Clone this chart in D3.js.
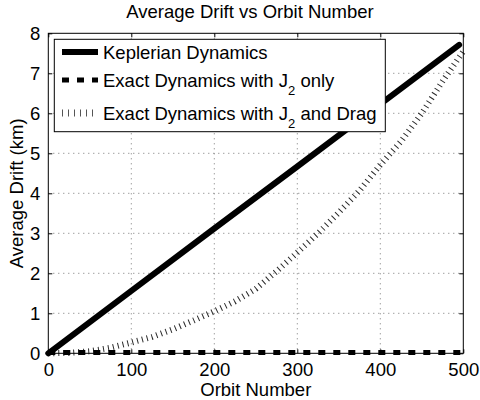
<!DOCTYPE html>
<html><head><meta charset="utf-8">
<script src="https://cdn.jsdelivr.net/npm/d3@7"></script>
<style>body{margin:0;background:#fff}svg{display:block}text{font-family:"Liberation Sans",Arial,sans-serif}</style>
</head><body>
<svg id="c" width="480" height="400"></svg>
<script>
const title = "Average Drift vs Orbit Number";
const xLabel = "Orbit Number";
const yLabel = "Average Drift (km)";
const xTicks = [0, 100, 200, 300, 400, 500];
const yTicks = [0, 1, 2, 3, 4, 5, 6, 7, 8];
const keplerOrbit = [0, 100, 200, 300, 400, 495];
const keplerDrift = [0, 1.56, 3.12, 4.67, 6.23, 7.71];
const j2Orbit = [0, 100, 200, 300, 400, 500];
const j2Drift = [0.02, 0.02, 0.02, 0.02, 0.02, 0.02];
const dragOrbit = [0, 25, 50, 75, 100, 125, 150, 175, 200, 225, 250, 275, 300, 325, 350, 375, 400, 425, 450, 475, 500];
const dragDrift = [0, 0.01, 0.05, 0.14, 0.27, 0.41, 0.6, 0.82, 1.05, 1.3, 1.61, 2.05, 2.52, 3.0, 3.52, 4.07, 4.71, 5.3, 6.0, 6.8, 7.55];
const legendLabels = [["Keplerian Dynamics", null, ""], ["Exact Dynamics with J", "2", " only"], ["Exact Dynamics with J", "2", " and Drag"]];

const L = 48.3, R = 463.3, T = 33.3, B = 353.3;
const x = d3.scaleLinear().domain([0, 500]).range([L, R]);
const y = d3.scaleLinear().domain([0, 8]).range([B, T]);
const svg = d3.select("#c");
const FS = 18.5;

// grid
const g = svg.append("g");
g.selectAll(".gx").data(xTicks.slice(1, -1)).enter().append("line")
  .attr("x1", d => x(d)).attr("x2", d => x(d)).attr("y1", T).attr("y2", B)
  .attr("stroke", "#777").attr("stroke-width", 1).attr("stroke-dasharray", "1 4");
g.selectAll(".gy").data(yTicks.slice(1, -1)).enter().append("line")
  .attr("y1", d => y(d)).attr("y2", d => y(d)).attr("x1", L).attr("x2", R)
  .attr("stroke", "#777").attr("stroke-width", 1).attr("stroke-dasharray", "1 4");

// axes
const tickLen = 4;
svg.append("g").attr("transform", `translate(0,${B})`)
  .call(d3.axisBottom(x).tickValues(xTicks).tickSizeInner(-tickLen).tickSizeOuter(0).tickPadding(10))
  .call(a => a.select(".domain").remove());
svg.append("g").attr("transform", `translate(0,${T})`)
  .call(d3.axisTop(x).tickValues(xTicks).tickSizeInner(-tickLen).tickSizeOuter(0).tickFormat(""))
  .call(a => a.select(".domain").remove());
svg.append("g").attr("transform", `translate(${L},0)`)
  .call(d3.axisLeft(y).tickValues(yTicks).tickSizeInner(-tickLen).tickSizeOuter(0).tickPadding(8))
  .call(a => a.select(".domain").remove());
svg.append("g").attr("transform", `translate(${R},0)`)
  .call(d3.axisRight(y).tickValues(yTicks).tickSizeInner(-tickLen).tickSizeOuter(0).tickFormat(""))
  .call(a => a.select(".domain").remove());
svg.selectAll(".tick text").attr("font-size", FS).attr("font-family", "Liberation Sans, Arial, sans-serif").attr("fill", "#000");
svg.selectAll(".tick line").attr("stroke", "#000");

// data lines
const line = d3.line().x(d => x(d[0])).y(d => y(d[1]));
const dg = svg.append("g");
dg.append("path").datum(dragOrbit.map((o, i) => [o, dragDrift[i]])).attr("d", line)
  .attr("fill", "none").attr("stroke", "#2a2a2a").attr("stroke-width", 6).attr("stroke-dasharray", "1 4");
dg.append("path").datum(j2Orbit.map((o, i) => [o, j2Drift[i]])).attr("d", line)
  .attr("fill", "none").attr("stroke", "#000").attr("stroke-width", 5).attr("stroke-dasharray", "7 8");
dg.append("path").datum(keplerOrbit.map((o, i) => [o, keplerDrift[i]])).attr("d", line)
  .attr("fill", "none").attr("stroke", "#000").attr("stroke-width", 6).attr("stroke-linecap", "round");

// box
svg.append("rect").attr("x", L).attr("y", T).attr("width", R - L).attr("height", B - T)
  .attr("fill", "none").attr("stroke", "#000").attr("stroke-width", 1);

// legend
const lg = svg.append("g");
lg.append("rect").attr("x", 54.3).attr("y", 39.3).attr("width", 331).attr("height", 92.4)
  .attr("fill", "#fff").attr("stroke", "#000").attr("stroke-width", 1);
const rowY = [52, 80, 113];
const styles = [
  {stroke: "#000", w: 6, dash: null},
  {stroke: "#000", w: 5, dash: "7 8"},
  {stroke: "#555", w: 7, dash: "1 5"}
];
legendLabels.forEach((lab, i) => {
  lg.append("line").attr("x1", 62).attr("x2", 98).attr("y1", rowY[i]).attr("y2", rowY[i])
    .attr("stroke", styles[i].stroke).attr("stroke-width", styles[i].w)
    .attr("stroke-dasharray", styles[i].dash);
  const t = lg.append("text").attr("x", 103).attr("y", rowY[i] + 7).attr("font-size", FS);
  t.append("tspan").text(lab[0]);
  if (lab[1]) {
    t.append("tspan").attr("font-size", 13).attr("dy", 8).text(lab[1]);
    t.append("tspan").attr("dy", -8).text(lab[2]);
  }
});

// labels
svg.append("text").attr("x", 250).attr("y", 18).attr("text-anchor", "middle").attr("font-size", FS).text(title);
svg.append("text").attr("x", (L + R) / 2).attr("y", 396).attr("text-anchor", "middle").attr("font-size", FS).text(xLabel);
svg.append("text").attr("transform", `translate(23,${(T + B) / 2}) rotate(-90)`).attr("text-anchor", "middle").attr("font-size", FS).text(yLabel);
</script>
</body></html>
